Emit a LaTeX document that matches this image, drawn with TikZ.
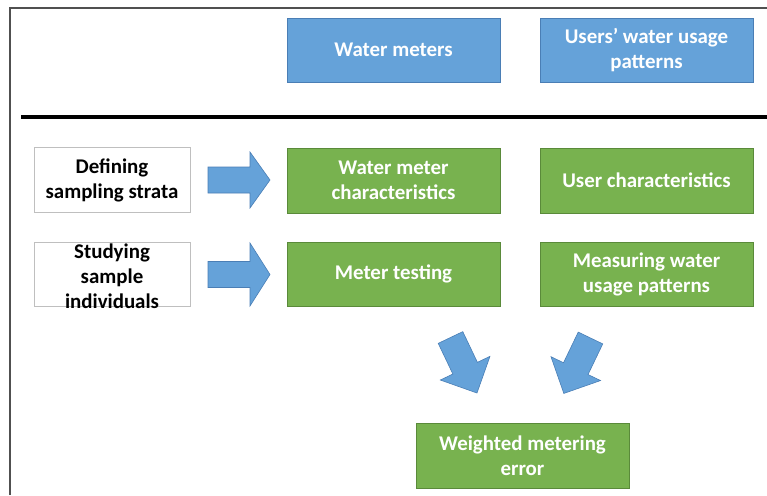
\documentclass[tikz,border=0pt]{standalone}
\usepackage{fontspec}
\setmainfont{Carlito}
\definecolor{bluefill}{HTML}{65A2D9}
\definecolor{blueline}{HTML}{4A7EB5}
\definecolor{greenfill}{HTML}{78B24F}
\definecolor{greenline}{HTML}{5A8A3A}
\definecolor{frameline}{HTML}{505050}
\definecolor{whiteline}{HTML}{BFBFBF}
\tikzset{
  txt/.style={font=\fontsize{20.9}{25}\selectfont\bfseries, align=center},
  bluebox/.style={txt, draw=blueline, fill=bluefill, text=white, line width=0.8pt, minimum width=213pt, minimum height=64pt, inner sep=0pt},
  greenbox/.style={txt, draw=greenline, fill=greenfill, text=white, line width=0.8pt, minimum width=213pt, minimum height=65pt, inner sep=0pt},
  whitebox/.style={draw=whiteline, fill=white, line width=0.8pt, minimum width=156pt, minimum height=65pt, inner sep=0pt},
  blacklabel/.style={txt, text=black, inner sep=0pt},
  blockarrow/.style={draw=blueline, fill=bluefill, line width=0.6pt, line join=miter},
}
\begin{document}
\begin{tikzpicture}[x=1pt, y=-1pt]
\useasboundingbox (0,0) rectangle (767,495);
% frame
\draw[frameline, line width=1.8pt] (10,495) -- (10,7.8) -- (767,7.8);
\draw[black, line width=3.5pt] (21,117) -- (767,117);
% top row
\node[bluebox] (wm) at (393.5,50) {Water meters};
\node[bluebox] (uw) at (646.5,50) {Users’ water usage\\patterns};
% row 2
\node[whitebox] (ds) at (112,180) {};
\node[blacklabel] (dsl) at (ds) {Defining\\sampling strata};
\node[greenbox] (wmc) at (393.5,180.5) {Water meter\\characteristics};
\node[greenbox] (uc) at (646.5,180.5) {User characteristics};
% row 3
\node[whitebox, minimum height=64pt] (si) at (112,274) {};
\node[blacklabel] (sil) at (112,276) {Studying\\sample\\individuals};
\node[greenbox, minimum height=64pt] (mt) at (393.5,274) {Meter testing};
\node[greenbox, minimum height=64pt] (mw) at (646.5,274) {Measuring water\\usage patterns};
% bottom
\node[greenbox] (wme) at (522.5,455.5) {Weighted metering\\error};
% block arrows
\draw[blockarrow] (208,167) -- (250,167) -- (250,152) -- (270,180) -- (250,208) -- (250,193) -- (208,193) -- cycle;
\draw[blockarrow] (208,261.5) -- (250,261.5) -- (250,243) -- (270,274.5) -- (250,306) -- (250,287.5) -- (208,287.5) -- cycle;
\begin{scope}[shift={(450.5,337.5)}, rotate=-64.5]
\draw[blockarrow] (0,-13.6) -- (34,-13.6) -- (34,-27.5) -- (61.5,0) -- (34,27.5) -- (34,13.6) -- (0,13.6) -- cycle;
\end{scope}
\begin{scope}[shift={(590.5,338)}, rotate=-115.7]
\draw[blockarrow] (0,-13.6) -- (34,-13.6) -- (34,-27.5) -- (61.5,0) -- (34,27.5) -- (34,13.6) -- (0,13.6) -- cycle;
\end{scope}
\end{tikzpicture}
\end{document}
